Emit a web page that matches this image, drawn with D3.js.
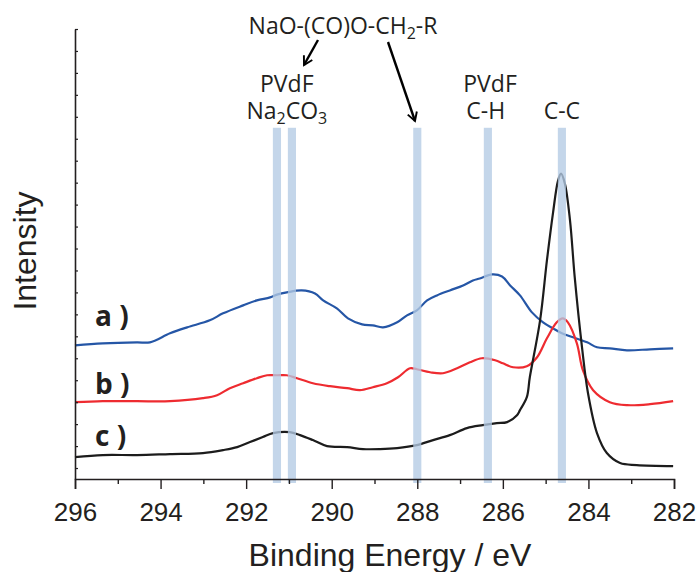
<!DOCTYPE html>
<html lang="en">
<head>
<meta charset="UTF-8">
<title>C 1s XPS</title>
<script src="https://d3js.org/d3.v7.min.js"></script>
<style>
  body { margin: 0; background: #fff; }
  .axis text { font-family: "Liberation Sans", Arial, sans-serif; }
</style>
</head>
<body>
<svg width="697" height="572" id="mainsvg"></svg>
<script>
// spectrum a) (blue)
const energyA = [296.00, 295.35, 294.55, 294.25, 293.78, 293.38, 292.85, 292.54, 292.07, 291.75, 291.44, 291.26, 291.05, 290.70, 290.39, 290.20, 289.88, 289.62, 289.29, 289.04, 288.80, 288.47, 288.24, 288.01, 287.77, 287.54, 287.24, 286.93, 286.70, 286.54, 286.25, 286.02, 285.83, 285.60, 285.32, 285.06, 284.83, 284.62, 284.36, 284.03, 283.80, 283.50, 283.10, 282.56, 282.02];
const intensityA = [123, 125, 126, 126, 135, 141, 148, 155, 163, 168, 171, 174, 176, 178, 175, 168, 160, 150, 144, 143, 141, 146, 153, 158, 168, 173, 178, 183, 188, 190, 194, 192, 183, 173, 156, 146, 140, 135, 131, 126, 121, 120, 118, 119, 120];

// spectrum b) (red)
const energyB = [296.00, 295.35, 294.55, 293.78, 293.01, 292.68, 292.38, 292.07, 291.75, 291.51, 291.28, 291.05, 290.81, 290.44, 290.04, 289.64, 289.34, 289.04, 288.71, 288.45, 288.17, 288.01, 287.70, 287.40, 287.07, 286.77, 286.49, 286.18, 286.00, 285.76, 285.44, 285.20, 284.97, 284.74, 284.60, 284.48, 284.27, 284.13, 283.89, 283.50, 283.10, 282.56, 282.02];
const intensityB = [66, 67, 67, 67, 70, 73, 80, 85, 90, 93, 93, 93, 90, 85, 82, 80, 78, 81, 85, 91, 100, 99, 96, 95, 100, 106, 110, 108, 105, 101, 102, 111, 130, 146, 150, 146, 125, 98, 78, 66, 63, 64, 67];

// spectrum c) (black)
const energyC = [296.00, 295.35, 294.55, 293.78, 293.01, 292.54, 292.21, 291.91, 291.61, 291.37, 290.98, 290.74, 290.44, 290.11, 289.64, 289.27, 288.87, 288.47, 288.01, 287.63, 287.24, 286.84, 286.47, 286.14, 285.90, 285.67, 285.60, 285.44, 285.37, 285.13, 284.97, 284.83, 284.71, 284.64, 284.55, 284.43, 284.32, 284.15, 284.01, 283.80, 283.57, 283.26, 282.87, 282.02];
const intensityC = [11, 13, 13, 14, 15, 18, 21, 26, 31, 35, 36, 33, 28, 22, 21, 19, 19, 20, 23, 28, 33, 40, 43, 45, 46, 53, 58, 71, 91, 148, 208, 255, 288, 295, 285, 248, 191, 121, 75, 35, 15, 5, 3, 2];

// marker bands (eV)
const bandEnergies = [291.28, 290.93, 288.0, 286.35, 284.62];

const xTicks = [296, 294, 292, 290, 288, 286, 284, 282];

const svg = d3.select('#mainsvg');
const width = +svg.attr('width');
const height = +svg.attr('height');
const margin = { top: 29, right: 23, bottom: 93, left: 75 };
const innerWidth = width - margin.left - margin.right;
const innerHeight = height - margin.top - margin.bottom;

const g = svg.append('g').attr('transform', `translate(${margin.left},${margin.top})`);

const xScale = d3.scaleLinear().domain([296, 282]).range([0, innerWidth]);
const yScale = d3.scaleLinear().domain([-11, 440]).range([innerHeight, 0]);

const series = [
  { label: 'a )', e: energyA, v: intensityA, color: '#2556a6' },
  { label: 'b )', e: energyB, v: intensityB, color: '#ee2b30' },
  { label: 'c )', e: energyC, v: intensityC, color: '#1c1c1c' }
];

const line = d3.line()
  .x(d => xScale(d[0]))
  .y(d => yScale(d[1]))
  .curve(d3.curveCatmullRom.alpha(0.5));

series.forEach(s => {
  g.append('path')
    .datum(d3.zip(s.e, s.v))
    .attr('fill', 'none')
    .attr('stroke', s.color)
    .attr('stroke-width', 2.2)
    .attr('stroke-linejoin', 'round')
    .attr('d', line);
});

// translucent bands over the traces
const bandW = xScale(295.81) - xScale(296);
g.selectAll('rect.band')
  .data(bandEnergies)
  .enter()
  .append('rect')
  .attr('class', 'band')
  .attr('x', d => xScale(d) - bandW / 2)
  .attr('width', bandW)
  .attr('y', yScale(341))
  .attr('height', yScale(-15) - yScale(341))
  .attr('fill', '#b3cae4')
  .attr('opacity', 0.78);

// series labels
const labelY = [326, 394, 446];
series.forEach((s, i) => {
  g.append('text')
    .attr('x', 95 - margin.left)
    .attr('y', labelY[i] - margin.top)
    .attr('font-family', '"Open Sans", sans-serif')
    .attr('font-weight', 'bold')
    .attr('font-size', 28)
    .attr('fill', '#231f20')
    .text(s.label);
});

// axes
const xAxis = d3.axisBottom(xScale)
  .tickValues(xTicks)
  .tickFormat(d3.format('d'))
  .tickSize(10)
  .tickPadding(14);
const xAxisG = g.append('g')
  .attr('class', 'axis')
  .attr('transform', `translate(0,${innerHeight})`)
  .call(xAxis);
xAxisG.select('.domain').attr('stroke', '#231f20').attr('stroke-width', 1.6);
xAxisG.selectAll('.tick line').attr('stroke', '#231f20').attr('stroke-width', 1.4);
xAxisG.selectAll('.tick text').attr('font-size', 26).attr('fill', '#231f20');

// minor x ticks
const xMinor = d3.axisBottom(xScale)
  .tickValues(d3.range(295, 282, -2))
  .tickFormat('')
  .tickSize(5);
const xMinorG = g.append('g')
  .attr('transform', `translate(0,${innerHeight})`)
  .call(xMinor);
xMinorG.select('.domain').remove();
xMinorG.selectAll('.tick line').attr('stroke', '#231f20').attr('stroke-width', 1.4);

const yAxis = d3.axisLeft(yScale)
  .tickValues(d3.range(0, 441, 22))
  .tickFormat('')
  .tickSize(-3)
  .tickSizeOuter(0);
const yAxisG = g.append('g').attr('class', 'axis').call(yAxis);
yAxisG.select('.domain').attr('stroke', '#231f20').attr('stroke-width', 1.6);
yAxisG.selectAll('.tick line').attr('stroke', '#231f20').attr('stroke-width', 1.2);

// axis titles
svg.append('text')
  .attr('x', 390)
  .attr('y', 566)
  .attr('text-anchor', 'middle')
  .attr('font-family', '"Liberation Sans", Arial, sans-serif')
  .attr('font-size', 32)
  .attr('fill', '#231f20')
  .text('Binding Energy / eV');

svg.append('text')
  .attr('transform', 'translate(36,251) rotate(-90)')
  .attr('text-anchor', 'middle')
  .attr('font-family', '"Liberation Sans", Arial, sans-serif')
  .attr('font-size', 32)
  .attr('fill', '#231f20')
  .text('Intensity');

// peak annotations
const annFont = '"Open Sans", sans-serif';
function annText(x, y, parts) {
  const t = svg.append('text')
    .attr('x', x)
    .attr('y', y)
    .attr('text-anchor', 'middle')
    .attr('font-family', annFont)
    .attr('font-size', 23)
    .attr('fill', '#231f20');
  parts.forEach(p => {
    const sp = t.append('tspan').text(p[0]);
    if (p[1]) sp.attr('font-size', 16).attr('dy', 5);
    else if (p[2]) sp.attr('dy', -5);
  });
}
const ax = e => margin.left + xScale(e);
annText(343, 34, [['NaO-(CO)O-CH'], ['2', true], ['-R', false, true]]);
annText(ax(291.05), 92, [['PVdF']]);
annText(ax(291.05), 119, [['Na'], ['2', true], ['CO', false, true], ['3', true]]);
annText(ax(286.3), 92, [['PVdF']]);
annText(ax(286.4), 119, [['C-H']]);
annText(ax(284.62), 119, [['C-C']]);

// arrows
const defs = svg.append('defs');
defs.append('marker')
  .attr('id', 'arrowhead')
  .attr('viewBox', '0 0 10 10')
  .attr('refX', 8)
  .attr('refY', 5)
  .attr('markerWidth', 5)
  .attr('markerHeight', 5)
  .attr('orient', 'auto')
  .append('path')
  .attr('d', 'M1,1 L8,5 L1,9')
  .attr('fill', 'none')
  .attr('stroke', '#000')
  .attr('stroke-width', 1.6);

const arrows = [
  [318, 40, 304, 65],
  [388, 42, 415, 121]
];
svg.selectAll('line.arrow')
  .data(arrows)
  .enter()
  .append('line')
  .attr('class', 'arrow')
  .attr('x1', d => d[0]).attr('y1', d => d[1])
  .attr('x2', d => d[2]).attr('y2', d => d[3])
  .attr('stroke', '#000')
  .attr('stroke-width', 2.4)
  .attr('marker-end', 'url(#arrowhead)');
</script>
</body>
</html>
